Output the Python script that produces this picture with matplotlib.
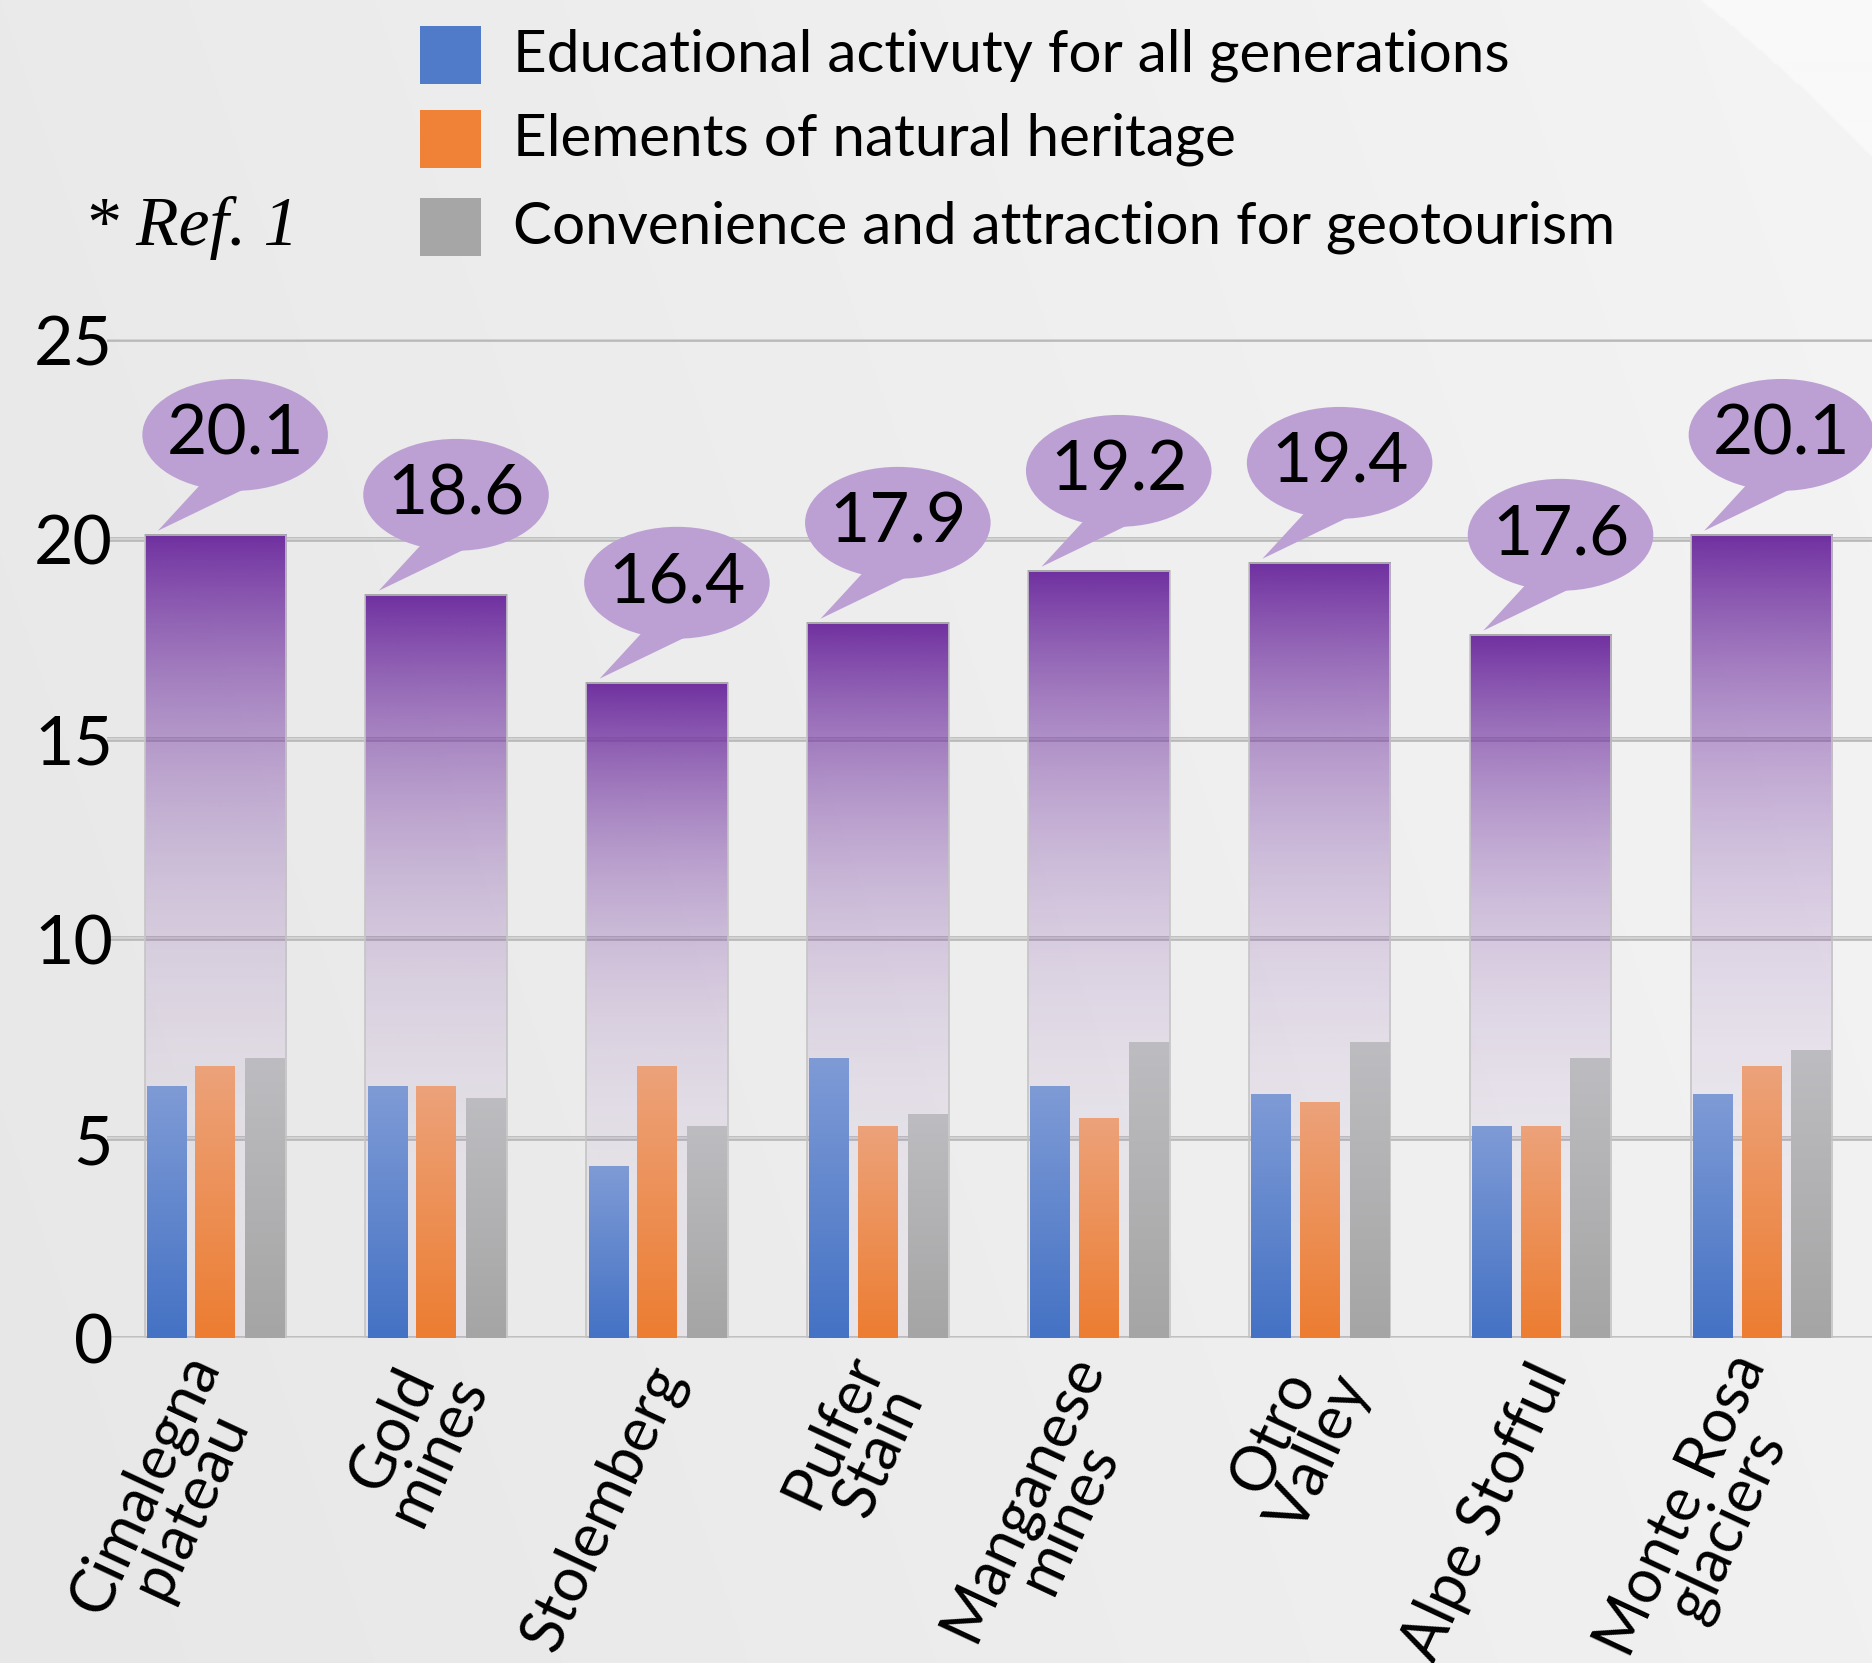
import numpy as np
import matplotlib
matplotlib.use("Agg")
import matplotlib.pyplot as plt
from matplotlib.patches import Ellipse, Polygon, Rectangle
from matplotlib import transforms

# data
sites = ["Cimalegna\nplateau", "Gold\nmines", "Stolemberg", "Pulfer\nStain",
         "Manganese\nmines", "Otro\nValley", "Alpe Stofful", "Monte Rosa\nglaciers"]
educational = [6.3, 6.3, 4.3, 7.0, 6.3, 6.1, 5.3, 6.1]
natural = [6.8, 6.3, 6.8, 5.3, 5.5, 5.9, 5.3, 6.8]
convenience = [7.0, 6.0, 5.3, 5.6, 7.4, 7.4, 7.0, 7.2]
totals = [20.1, 18.6, 16.4, 17.9, 19.2, 19.4, 17.6, 20.1]
series_names = ["Educational activuty for all generations",
                "Elements of natural heritage",
                "Convenience and attraction for geotourism"]
yticks = [0, 5, 10, 15, 20, 25]

FONT = "Lato"
W, H = 1872, 1663
fig = plt.figure(figsize=(W / 100, H / 100), dpi=100)

# background: soft gray gradient, lighter beyond a big arc in the top right corner
bg = fig.add_axes([0, 0, 1, 1], zorder=-5)
yy, xx = np.mgrid[0:H:2, 0:W:2]
shade = 231 + 10 * xx / W + 3 * (1 - yy / H)
cx, cy = 687, 1282
r = np.hypot(1700 - cx, 0 - cy)
outside = (xx - cx) ** 2 + (yy - cy) ** 2 > r ** 2
shade[outside] = 249
img = np.dstack([shade, shade, shade]) / 255.0
bg.imshow(np.clip(img, 0, 1), extent=[0, 1, 0, 1], aspect="auto", interpolation="bilinear")
bg.axis("off")

ax = fig.add_axes([107 / W, 325 / H, 1 - 107 / W, (1338 - 339) / H])
ax.set_facecolor("none")
for s in ax.spines.values():
    s.set_visible(False)


def vgrad(x0, x1, h, top, bot, alpha=None, z=2):
    n = 256
    f = np.linspace(0, 1, n)[:, None]
    top = np.array(matplotlib.colors.to_rgb(top))
    bot = np.array(matplotlib.colors.to_rgb(bot))
    rgb = bot + (top - bot) * f[..., None]
    rgb = np.repeat(rgb, 2, axis=1)
    if alpha is not None:
        a = np.repeat(alpha(f), 2, axis=1)[..., None]
        rgb = np.concatenate([rgb, a], axis=2)
    ax.imshow(rgb, extent=[x0, x1, 0, h], origin="lower", aspect="auto",
              interpolation="bilinear", zorder=z)


# gridlines
for t in yticks:
    ax.axhline(t, color="#b9b9b9", lw=3.4, zorder=0)
    ax.axhline(t, color="#d8d8d8", lw=1.2, zorder=0.5)

x = np.arange(len(sites))
bw = 0.64
sw = 0.18
offs = [-0.22, 0.0, 0.225]
small_cols = [("#7f9bd6", "#4472c4"), ("#eca27a", "#ed7d31"), ("#bdbcc0", "#a5a5a5")]

for i in x:
    # total bar, purple fading down
    vgrad(i - bw / 2, i + bw / 2, totals[i], "#7030a0", "#7030a0",
          alpha=lambda f: 0.04 + 0.96 * f ** 3, z=1)
    ax.add_patch(Rectangle((i - bw / 2, 0), bw, totals[i], fill=False,
                           edgecolor="#c4c4c4", lw=1.2, zorder=1.5))
    ax.plot([i - bw / 2, i + bw / 2], [totals[i], totals[i]], color="#a8a8a8",
            lw=1.4, zorder=1.6, solid_capstyle="butt")
    # the three components
    for vals, off, (ct, cb) in zip([educational, natural, convenience], offs, small_cols):
        vgrad(i + off - sw / 2, i + off + sw / 2, vals[i], ct, cb, z=3)

    # speech bubble
    bx, by = i + 0.09, totals[i] + 2.5
    ax.add_patch(Polygon([(bx - 0.15, by - 1.2), (bx + 0.10, by - 1.2),
                          (i - 0.26, totals[i] + 0.1)], closed=True,
                         facecolor="#bca0d4", edgecolor="none", zorder=4, clip_on=False))
    ax.add_patch(Ellipse((bx, by), 0.84, 2.8, facecolor="#bca0d4",
                         edgecolor="none", zorder=4, clip_on=False))
    ax.text(bx, by, f"{totals[i]:.1f}", ha="center", va="center",
            fontsize=50, family=FONT, zorder=5)

ax.set_xlim(-0.49, 7.5)
ax.set_ylim(0, 25)
ax.set_xticks([])
ax.set_yticks([])

# y tick labels
ylab = transforms.blended_transform_factory(ax.transAxes, ax.transData)
ylab = ylab + transforms.ScaledTranslation(6 / 100, -7 / 100, fig.dpi_scale_trans)
for t in yticks:
    ax.text(0, t, str(t), ha="right", va="center", fontsize=49, family=FONT,
            transform=ylab)

# category labels, rotated
off = transforms.ScaledTranslation(12 / 100, -30 / 100, fig.dpi_scale_trans)
for i, s in enumerate(sites):
    ax.text(i, 0, s, rotation=65, rotation_mode="anchor", ha="right", va="center",
            multialignment="center", fontsize=44, family=FONT, linespacing=0.85,
            transform=ax.transData + off)

# legend
cols = ["#4f7bc8", "#ef8236", "#a6a6a6"]
rows_y = [55, 139, 227]
for c, name, yc in zip(cols, series_names, rows_y):
    fig.add_artist(Rectangle((420 / W, 1 - (yc + 29) / H), 61 / W, 58 / H,
                             facecolor=c, edgecolor="none", transform=fig.transFigure))
    fig.text(513 / W, 1 - yc / H, name, ha="left", va="center", fontsize=42, family=FONT)

fig.text(84 / W, 1 - 245 / H, "* Ref. 1", ha="left", va="baseline", fontsize=50,
         family="Liberation Serif", style="italic")

fig.savefig("out.png", dpi=100)
